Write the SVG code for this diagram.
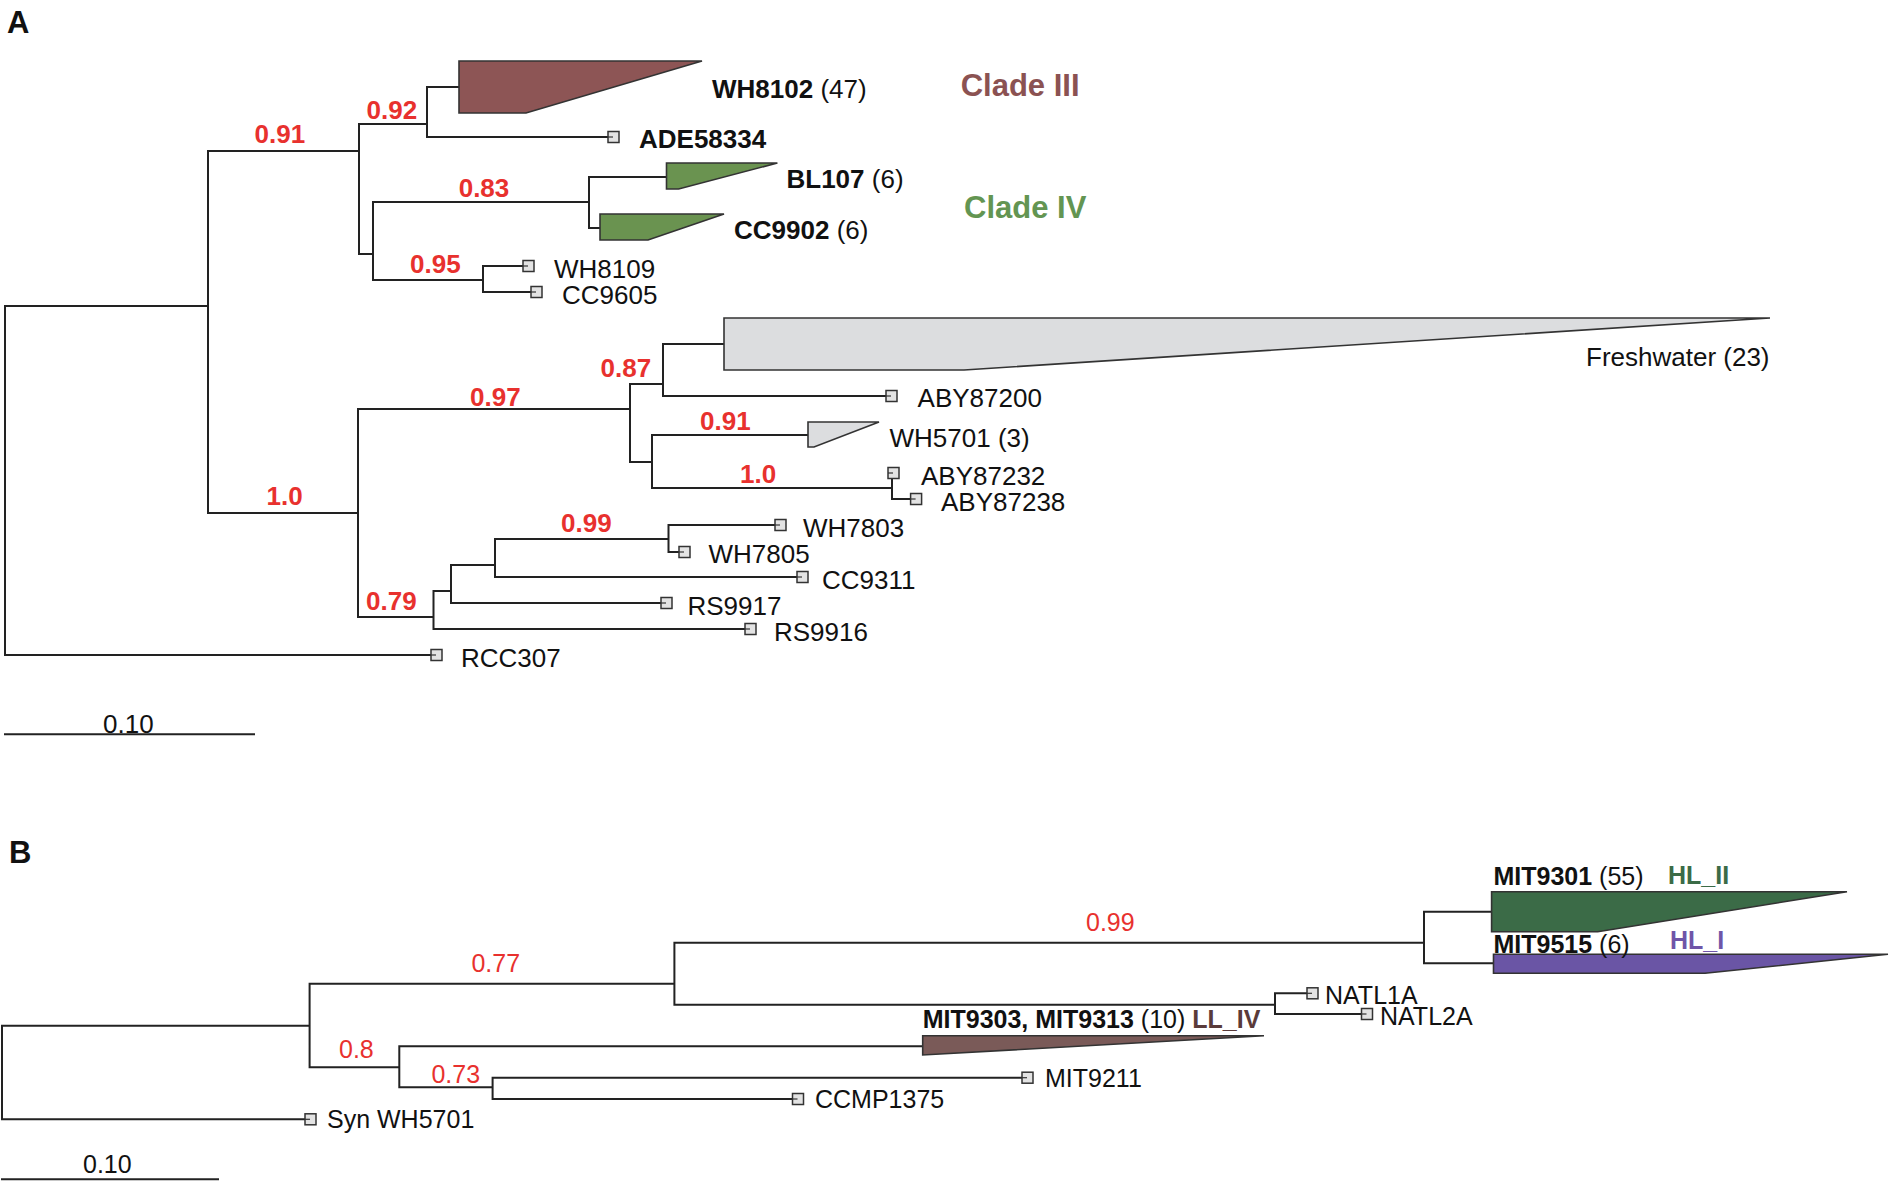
<svg xmlns="http://www.w3.org/2000/svg" width="1890" height="1181" viewBox="0 0 1890 1181">
<style>
.br{fill:none;stroke:#222;stroke-width:2;stroke-linecap:square}
.leaf{fill:#e3e3e3;stroke:#333;stroke-width:1.5}
.tick{stroke:#333;stroke-width:1.2}
.tri{stroke:#333;stroke-width:1.6}
text{font-family:"Liberation Sans",Arial,sans-serif}
.a{font-size:26px;fill:#111}
.ab{font-size:26px;fill:#111;font-weight:bold}
.sa{font-size:26px;fill:#e8312e;font-weight:bold}
.b{font-size:25px;fill:#111}
.bb{font-size:25px;fill:#111;font-weight:bold}
.sb{font-size:25px;fill:#e8312e}
.panel{font-size:31px;font-weight:bold;fill:#111}
.clade{font-size:31px;font-weight:bold}
</style>
<defs>
<g id="box"><rect x="0" y="-5.5" width="11" height="11" class="leaf"/><line x1="0" y1="0" x2="5" y2="0" class="tick"/></g>
</defs>
<rect width="1890" height="1181" fill="#fff"/>

<text x="7" y="33" class="panel">A</text>
<text x="9" y="863" class="panel">B</text>

<g id="connectors">
<path class="br" d="M5,306 V655 M5,306 H208 M5,655 H431
M208,151 V513 M208,151 H359 M359,124 V254
M359,124 H427 M427,87 V137 M427,87 H459 M427,137 H608
M359,254 H373 M373,202 V280
M373,202 H589 M589,177 V228 M589,177 H666.5 M589,228 H600
M373,280 H483 M483,266 V292 M483,266 H523 M483,292 H531
M208,513 H358 M358,409 V617
M358,409 H630 M630,384 V462
M630,384 H663 M663,344 V396 M663,344 H724 M663,396 H886
M630,462 H652 M652,435 V488 M652,435 H808 M652,488 H892
M892,473 V499 M892,499 H911
M358,617 H433.5 M433.5,591 V629
M433.5,591 H451 M451,565 V603
M451,565 H495 M495,539 V577
M495,539 H668.5 M668.5,525 V552 M668.5,525 H775 M668.5,552 H679
M495,577 H797
M451,603 H661
M433.5,629 H745"/>
<path class="br" d="M5,734.3 H254"/>
<path class="br" d="M2,1025.7 V1119.3 M2,1025.7 H309.6 M2,1119.3 H305
M309.6,983.7 V1067.3
M309.6,983.7 H674.4 M674.4,942.7 V1004.7
M674.4,942.7 H1424 M1424,911.7 V963.3 M1424,911.7 H1491.6 M1424,963.3 H1493.5
M674.4,1004.7 H1275 M1275,993.3 V1014 M1275,993.3 H1307 M1275,1014 H1361.5
M309.6,1067.3 H399.3 M399.3,1046.3 V1087.3
M399.3,1046.3 H922.8
M399.3,1087.3 H492.6 M492.6,1077.7 V1099 M492.6,1077.7 H1022 M492.6,1099 H792.5"/>
<path class="br" d="M2,1179.3 H218"/>
</g>

<g id="clade-WH8102"><polygon class="tri" fill="#8d5555" points="459,61 702,61 526,113 459,113"/><text x="712" y="98" class="ab">WH8102<tspan font-weight="normal"> (47)</tspan></text></g>
<g id="leaf-ADE58334"><use href="#box" x="608" y="137"/><text x="639" y="148" class="ab">ADE58334</text></g>
<g id="clade-BL107"><polygon class="tri" fill="#6a9350" points="666.5,163 777.4,163 678.6,189 666.5,189"/><text x="786.5" y="188" class="ab">BL107<tspan font-weight="normal"> (6)</tspan></text></g>
<g id="clade-CC9902"><polygon class="tri" fill="#6a9350" points="600,214 724,214 648,240 600,240"/><text x="734" y="239" class="ab">CC9902<tspan font-weight="normal"> (6)</tspan></text></g>
<g id="leaf-WH8109"><use href="#box" x="523" y="266"/><text x="554" y="278" class="a">WH8109</text></g>
<g id="leaf-CC9605"><use href="#box" x="531" y="292"/><text x="562" y="304" class="a">CC9605</text></g>
<g id="clade-Freshwater"><polygon class="tri" fill="#dcdddf" points="724,318 1770,318 964,370 724,370"/><text x="1586" y="366" class="a">Freshwater (23)</text></g>
<g id="leaf-ABY87200"><use href="#box" x="886" y="396"/><text x="917.6" y="407" class="a">ABY87200</text></g>
<g id="clade-WH5701"><polygon class="tri" fill="#dcdddf" points="808,422 879,422 814,447 808,447"/><text x="889.5" y="447" class="a">WH5701 (3)</text></g>
<g id="leaf-ABY87232"><use href="#box" x="888" y="473"/><text x="921" y="485" class="a">ABY87232</text></g>
<g id="leaf-ABY87238"><use href="#box" x="910.6" y="499"/><text x="941" y="511" class="a">ABY87238</text></g>
<g id="leaf-WH7803"><use href="#box" x="775" y="525"/><text x="803" y="537" class="a">WH7803</text></g>
<g id="leaf-WH7805"><use href="#box" x="679" y="552"/><text x="708.5" y="563" class="a">WH7805</text></g>
<g id="leaf-CC9311"><use href="#box" x="797" y="577"/><text x="822" y="589" class="a">CC9311</text></g>
<g id="leaf-RS9917"><use href="#box" x="661" y="603"/><text x="687.5" y="615" class="a">RS9917</text></g>
<g id="leaf-RS9916"><use href="#box" x="745" y="629"/><text x="774" y="641" class="a">RS9916</text></g>
<g id="leaf-RCC307"><use href="#box" x="431" y="655"/><text x="461" y="667" class="a">RCC307</text></g>
<text x="103" y="733" class="a">0.10</text>

<g id="clade-labels-A">
<text x="960.7" y="95.7" class="clade" fill="#8b5252">Clade III</text>
<text x="964" y="218" class="clade" fill="#639552">Clade IV</text>
</g>

<g id="support-A">
<text x="254.5" y="143.3" class="sa">0.91</text>
<text x="366.6" y="119.3" class="sa">0.92</text>
<text x="458.7" y="196.7" class="sa">0.83</text>
<text x="410" y="273.3" class="sa">0.95</text>
<text x="470" y="406" class="sa">0.97</text>
<text x="266.6" y="505" class="sa">1.0</text>
<text x="600.5" y="377.3" class="sa">0.87</text>
<text x="700" y="430" class="sa">0.91</text>
<text x="740" y="482.7" class="sa">1.0</text>
<text x="561" y="532.3" class="sa">0.99</text>
<text x="366" y="610" class="sa">0.79</text>
</g>

<g id="clade-HL_II"><polygon class="tri" fill="#3b6b47" points="1491.6,891.7 1847,891.7 1597.7,931.7 1491.6,931.7"/><text x="1493.5" y="885" class="bb">MIT9301<tspan font-weight="normal"> (55)</tspan></text><text x="1668" y="884" class="bb" fill="#3b6b47" style="fill:#3b6b47">HL_II</text></g>
<g id="clade-HL_I"><polygon class="tri" fill="#6a55a5" points="1493.5,954.3 1888,954.3 1705,973.3 1493.5,973.3"/><text x="1493.5" y="953" class="bb">MIT9515<tspan font-weight="normal"> (6)</tspan></text><text x="1670" y="949" class="bb" style="fill:#6f55a8">HL_I</text></g>
<g id="leaf-NATL1A"><use href="#box" x="1307" y="993.3"/><text x="1325" y="1004" class="b">NATL1A</text></g>
<g id="leaf-NATL2A"><use href="#box" x="1361.5" y="1014"/><text x="1380" y="1025" class="b">NATL2A</text></g>
<g id="clade-LL_IV"><polygon class="tri" fill="#7a5a58" points="922.7,1035.7 1264,1035.7 922.7,1055"/><text x="922.7" y="1028.3" class="bb">MIT9303, MIT9313<tspan font-weight="normal"> (10) </tspan><tspan style="fill:#5a3b3a">LL_IV</tspan></text></g>
<g id="leaf-MIT9211"><use href="#box" x="1022" y="1077.7"/><text x="1045" y="1086.7" class="b">MIT9211</text></g>
<g id="leaf-CCMP1375"><use href="#box" x="792.5" y="1099"/><text x="815" y="1108.3" class="b">CCMP1375</text></g>
<g id="leaf-SynWH5701"><use href="#box" x="305" y="1119.3"/><text x="327" y="1128.3" class="b">Syn WH5701</text></g>
<text x="83" y="1173" class="b">0.10</text>

<g id="support-B">
<text x="1086" y="930.7" class="sb">0.99</text>
<text x="471.4" y="972.3" class="sb">0.77</text>
<text x="339" y="1057.7" class="sb">0.8</text>
<text x="431.4" y="1082.7" class="sb">0.73</text>
</g>
</svg>
